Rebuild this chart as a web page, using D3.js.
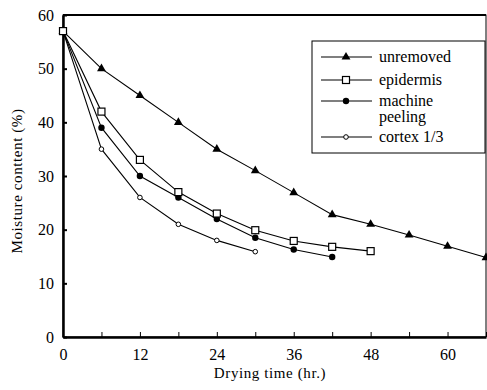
<!DOCTYPE html>
<html>
<head>
<meta charset="utf-8">
<script src="https://cdn.jsdelivr.net/npm/d3@7"></script>
<style>
  body { margin: 0; background: #fff; }
</style>
</head>
<body>
<div id="chart"></div>
<script>
// data
let hours = [0, 6, 12, 18, 24, 30, 36, 42, 48, 54, 60, 66];
let unremoved = [57, 50, 45, 40, 35, 31, 26.9, 22.8, 21, 19, 16.9, 14.8];
let epidermis = [57, 42, 33, 27, 23, 19.9, 17.9, 16.8, 16];
let machinePeeling = [57, 39, 30, 26, 22, 18.5, 16.3, 14.9];
let cortex = [57, 35, 26, 21, 18, 15.9];

let seriesNames = ['unremoved', 'epidermis', 'machine peeling', 'cortex 1/3'];
let xTickLabels = [0, 12, 24, 36, 48, 60];
let yTickLabels = [0, 10, 20, 30, 40, 50, 60];

const SERIF = '"Liberation Serif", "Times New Roman", "DejaVu Serif", serif';

let dim = { width: 487, height: 390 };
let plot = { left: 63, right: 486, top: 15, bottom: 337 };

let svg = d3.select('#chart').append('svg')
    .attr('width', dim.width)
    .attr('height', dim.height)
    .style('font-family', SERIF);

let scaleX = d3.scaleLinear().domain([0, 66]).range([plot.left, plot.right]);
let scaleY = d3.scaleLinear().domain([0, 60]).range([plot.bottom, plot.top]);

let series = [
    { name: seriesNames[0], values: unremoved, marker: 'triangle' },
    { name: seriesNames[1], values: epidermis, marker: 'square' },
    { name: seriesNames[2], values: machinePeeling, marker: 'dot' },
    { name: seriesNames[3], values: cortex, marker: 'ring' }
];

// frame
svg.append('rect')
    .attr('x', plot.left).attr('y', plot.top)
    .attr('width', plot.right - plot.left).attr('height', plot.bottom - plot.top)
    .attr('fill', 'none').attr('stroke', '#000').attr('stroke-width', 1);
svg.append('line').attr('x1', plot.left).attr('x2', plot.right)
    .attr('y1', plot.top).attr('y2', plot.top)
    .attr('stroke', '#000').attr('stroke-width', 2);

// axes
let axisX = svg.append('g')
    .attr('transform', `translate(0,${plot.bottom})`)
    .call(d3.axisBottom(scaleX)
        .tickValues(d3.range(0, 67, 6))
        .tickSizeInner(-5).tickSizeOuter(0)
        .tickFormat(d => xTickLabels.includes(d) ? d : ''));
axisX.attr('font-family', null).attr('font-size', null);
axisX.select('.domain').attr('stroke-width', 2.5);
axisX.selectAll('text')
    .style('font-family', SERIF).attr('font-size', 16)
    .attr('y', 12).attr('dy', '0.71em');

let axisY = svg.append('g')
    .attr('transform', `translate(${plot.left},0)`)
    .call(d3.axisLeft(scaleY)
        .tickValues(yTickLabels)
        .tickSizeInner(-4).tickSizeOuter(0));
axisY.attr('font-family', null).attr('font-size', null);
axisY.select('.domain').attr('stroke-width', 2.5);
axisY.selectAll('.tick line').attr('stroke-width', 2);
axisY.selectAll('text')
    .style('font-family', SERIF).attr('font-size', 16).attr('x', -9);

// titles
svg.append('text')
    .attr('transform', `translate(22,181) rotate(-90)`)
    .attr('text-anchor', 'middle')
    .attr('font-size', 15)
    .attr('letter-spacing', 0.6)
    .style('font-family', SERIF)
    .text('Moisture conttent (%)');
svg.append('text')
    .attr('x', 270).attr('y', 378)
    .attr('text-anchor', 'middle')
    .attr('font-size', 15)
    .attr('letter-spacing', 0.6)
    .style('font-family', SERIF)
    .text('Drying time (hr.)');

// markers
function drawMarker(g, type, x, y) {
    if (type === 'triangle') {
        g.append('path')
            .attr('d', d3.symbol(d3.symbolTriangle, 34)())
            .attr('transform', `translate(${x},${y})`)
            .attr('fill', '#000');
    } else if (type === 'square') {
        g.append('rect')
            .attr('x', x - 3.5).attr('y', y - 3.5)
            .attr('width', 7).attr('height', 7)
            .attr('fill', '#fff').attr('stroke', '#000').attr('stroke-width', 1.2);
    } else if (type === 'dot') {
        g.append('circle').attr('cx', x).attr('cy', y).attr('r', 3.2).attr('fill', '#000');
    } else {
        g.append('circle').attr('cx', x).attr('cy', y).attr('r', 2.3)
            .attr('fill', '#fff').attr('stroke', '#000').attr('stroke-width', 1);
    }
}

let line = d3.line()
    .x((d, i) => scaleX(hours[i]))
    .y(d => scaleY(d));

// draw back to front so the square sits on top at 0
[series[3], series[2], series[0], series[1]].forEach(s => {
    let g = svg.append('g');
    g.append('path')
        .attr('d', line(s.values))
        .attr('fill', 'none')
        .attr('stroke', '#000')
        .attr('stroke-width', 1.1);
    s.values.forEach((v, i) => drawMarker(g, s.marker, scaleX(hours[i]), scaleY(v)));
});

// legend
let legend = svg.append('g');
legend.append('rect')
    .attr('x', 312).attr('y', 41).attr('width', 173).attr('height', 112)
    .attr('fill', '#fff').attr('stroke', '#000').attr('stroke-width', 1);

let legendRows = [57, 80, 101, 137];
series.forEach((s, i) => {
    let y = legendRows[i];
    legend.append('line')
        .attr('x1', 321).attr('x2', 372).attr('y1', y).attr('y2', y)
        .attr('stroke', '#000').attr('stroke-width', 1.1);
    drawMarker(legend, s.marker, 346, y);
    let t = legend.append('text')
        .attr('x', 379).attr('y', y + 5)
        .attr('font-size', 16)
        .style('font-family', SERIF);
    if (s.name === 'machine peeling') {
        t.append('tspan').attr('x', 379).text('machine');
        t.append('tspan').attr('x', 379).attr('dy', 16).text('peeling');
    } else {
        t.text(s.name);
    }
});
</script>
</body>
</html>
